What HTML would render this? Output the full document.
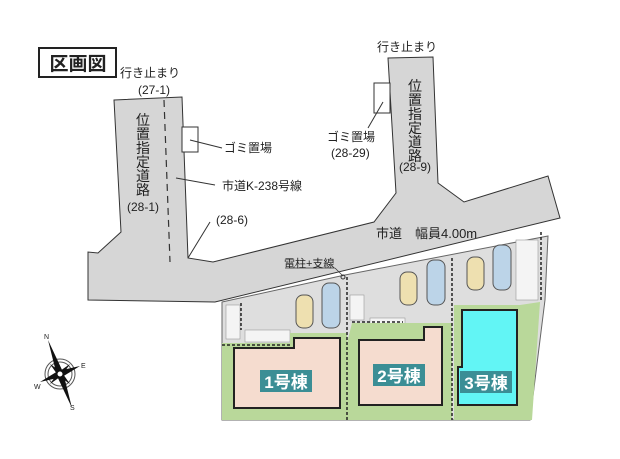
<!DOCTYPE html>
<html><head><meta charset="utf-8"><style>
body{margin:0;background:#fff}
svg{display:block}
text{font-family:"Liberation Sans","Noto Sans CJK JP",sans-serif;fill:#222}
</style></head><body>
<svg width="620" height="459" viewBox="0 0 620 459" xmlns="http://www.w3.org/2000/svg">
<rect width="620" height="459" fill="#fff"/>
<rect x="39" y="48" width="77" height="29" fill="#fff" stroke="#222" stroke-width="2"/>
<text x="78" y="70" font-size="19" font-weight="bold" text-anchor="middle">区画図</text>
<polygon points="222,302 345,275 548,236 545,300 530,420 222,420" fill="#dedede" stroke="#666"/>
<g fill="#f4f4f4" stroke="#999" stroke-width=".6">
<rect x="226" y="305" width="14" height="34"/><rect x="245" y="330" width="45" height="12"/>
<rect x="350" y="295" width="14" height="25"/><rect x="370" y="318" width="35" height="8"/>
<rect x="516" y="240" width="22" height="60"/><rect x="510" y="330" width="14" height="25"/>
</g>
<polygon points="222,343 290,343 290,333 347,333 347,420 222,420" fill="#b9d89a"/>
<polygon points="347,343 352,323 452,323 452,420 347,420" fill="#b9d89a"/>
<polygon points="454,305 520,305 540,302 532,420 454,420" fill="#b9d89a"/>
<polygon points="234,348 294,348 294,338 340,338 340,408 234,408" fill="#f5dccf" stroke="#222" stroke-width="2"/>
<polygon points="359,340 424,340 424,327 442,327 442,405 359,405" fill="#f5dccf" stroke="#222" stroke-width="2"/>
<polygon points="462,310 517,310 517,405 458,405 458,367 462,367" fill="#62f5f5" stroke="#222" stroke-width="2"/>
<rect x="260" y="370" width="52" height="22" fill="#3b8e95"/><text x="286" y="388" font-size="17" font-weight="bold" text-anchor="middle" style="fill:#fff">1号棟</text>
<rect x="373" y="364" width="52" height="22" fill="#3b8e95"/><text x="399" y="382" font-size="17" font-weight="bold" text-anchor="middle" style="fill:#fff">2号棟</text>
<rect x="460" y="371" width="52" height="22" fill="#3b8e95"/><text x="486" y="389" font-size="17" font-weight="bold" text-anchor="middle" style="fill:#fff">3号棟</text>
<g stroke="#222" stroke-width="1.5" stroke-dasharray="3,2" fill="none">
<line x1="347" y1="277" x2="347" y2="420"/><line x1="452" y1="258" x2="452" y2="420"/>
<line x1="222" y1="345" x2="290" y2="345"/><line x1="352" y1="322" x2="403" y2="322"/>
<line x1="241" y1="303" x2="241" y2="330"/><line x1="541" y1="232" x2="541" y2="300"/>
</g>
<g stroke="#555" stroke-width="1">
<rect x="296" y="295" width="17" height="33" rx="7" fill="#eee0b0"/>
<rect x="322" y="283" width="18" height="45" rx="7" fill="#bcd4e8"/>
<rect x="400" y="272" width="17" height="33" rx="7" fill="#eee0b0"/>
<rect x="427" y="260" width="18" height="45" rx="7" fill="#bcd4e8"/>
<rect x="467" y="257" width="17" height="33" rx="7" fill="#eee0b0"/>
<rect x="493" y="245" width="18" height="45" rx="7" fill="#bcd4e8"/>
</g>
<polygon points="114,100 182,97 188,258 213,262 374,222 396,193 388,58 433,57 438,183 464,202 548,176 560,218 215,302 88,300 88,252 98,253 121,232" fill="#d6d6d6" stroke="#333" stroke-width="1"/>
<line x1="164" y1="100" x2="170" y2="262" stroke="#333" stroke-width="1.2" stroke-dasharray="7,5"/>
<line x1="188" y1="258" x2="210" y2="222" stroke="#333"/>
<rect x="182" y="127" width="16" height="25" fill="#fff" stroke="#333"/>
<rect x="374" y="83" width="16" height="30" fill="#fff" stroke="#333"/>
<line x1="190" y1="140" x2="222" y2="148" stroke="#333"/>
<line x1="176" y1="178" x2="215" y2="185" stroke="#333"/>
<line x1="383" y1="102" x2="368" y2="128" stroke="#333"/>
<line x1="285" y1="268" x2="335" y2="268" stroke="#333" stroke-width=".7"/>
<line x1="335" y1="268" x2="343" y2="276" stroke="#333" stroke-width=".7"/>
<circle cx="343" cy="277" r="2" fill="none" stroke="#333"/>
<g font-size="12">
<text x="150" y="77" text-anchor="middle">行き止まり</text>
<text x="154" y="94" text-anchor="middle">(27-1)</text>
<text x="407" y="51" text-anchor="middle">行き止まり</text>
<text x="224" y="152">ゴミ置場</text>
<text x="222" y="190">市道K-238号線</text>
<text x="216" y="224">(28-6)</text>
<text x="327" y="141">ゴミ置場</text>
<text x="331" y="157">(28-29)</text>
<text x="143" y="211" text-anchor="middle">(28-1)</text>
<text x="415" y="171" text-anchor="middle">(28-9)</text>
<text x="376" y="238" font-size="13">市道　幅員4.00m</text>
<text x="284" y="267" font-size="11">電柱+支線</text>
</g>
<text font-size="14" x="143" y="125" text-anchor="middle">
<tspan x="143" dy="0">位</tspan><tspan x="143" dy="14">置</tspan><tspan x="143" dy="14">指</tspan><tspan x="143" dy="14">定</tspan><tspan x="143" dy="14">道</tspan><tspan x="143" dy="14">路</tspan></text>
<text font-size="14" x="415" y="91" text-anchor="middle">
<tspan x="415" dy="0">位</tspan><tspan x="415" dy="14">置</tspan><tspan x="415" dy="14">指</tspan><tspan x="415" dy="14">定</tspan><tspan x="415" dy="14">道</tspan><tspan x="415" dy="14">路</tspan></text>
<g transform="translate(60,374)">
<circle r="15" fill="none" stroke="#555"/><circle r="12" fill="none" stroke="#555"/>
<polygon points="-12,-34 3,-2 -3,2" fill="#111"/>
<polygon points="12,34 -3,2 3,-2" fill="#111"/>
<polygon points="-20,8 -2,-3 2,3" fill="#111"/>
<polygon points="20,-8 2,3 -2,-3" fill="#111"/>
<polygon points="-10,-10 0,-3 -3,0" fill="#111"/><polygon points="10,10 0,3 3,0" fill="#111"/>
<polygon points="10,-10 3,0 0,-3" fill="#111"/><polygon points="-10,10 -3,0 0,3" fill="#111"/>
<circle r="3" fill="#fff" stroke="#111"/>
<text x="-16" y="-35" font-size="7">N</text><text x="-26" y="15" font-size="7">W</text>
<text x="21" y="-6" font-size="7">E</text><text x="10" y="36" font-size="7">S</text>
</g>
</svg>
</body></html>
